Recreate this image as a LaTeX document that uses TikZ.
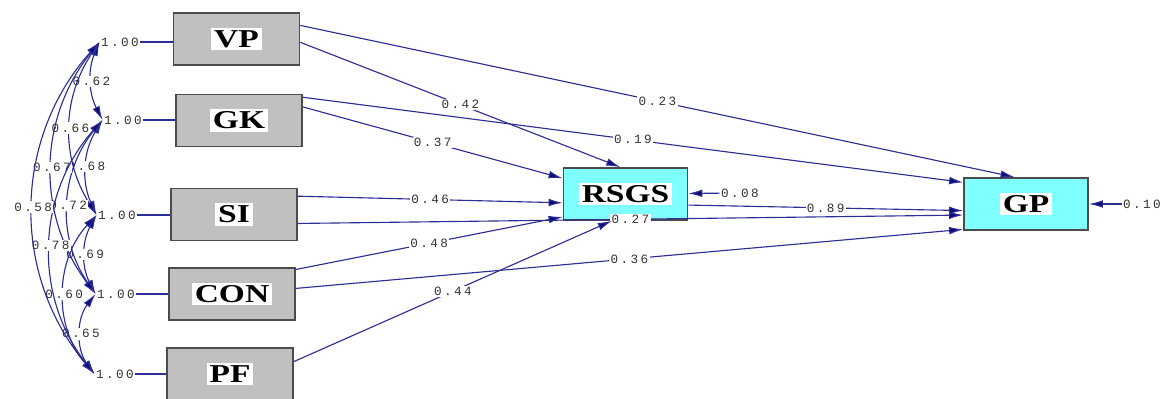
\documentclass[tikz,border=0pt]{standalone}
\usepackage{fontspec}
\usepackage{graphicx}
\setmainfont{Liberation Serif}
\newfontfamily\coeffont[LetterSpace=19]{Liberation Mono}
\usetikzlibrary{arrows,arrows.meta}
\definecolor{pathblue}{RGB}{45,45,150}
\definecolor{tipnavy}{RGB}{10,10,120}
\definecolor{boxgray}{RGB}{192,192,192}
\definecolor{boxcyan}{RGB}{128,255,255}
\setlength{\fboxsep}{2pt}
\newcommand{\varname}[1]{\colorbox{white}{\scalebox{1.3}[1]{\fontsize{18.3}{20}\selectfont\bfseries #1}}}

\begin{document}
\begin{tikzpicture}[x=0.025cm, y=0.025cm, >={Latex[length=10pt,width=5.5pt,fill=tipnavy]}]
		\useasboundingbox (0,0) rectangle (1168,399);
		\tikzstyle{every node} = [rectangle, draw=black!70, line width=1.2pt, minimum width=3.15cm, minimum height=1.3cm, inner sep=0pt]
		\tikzstyle{obs} = [fill=boxgray]
		\tikzstyle{endo} = [fill=boxcyan, minimum width=3.1cm]
		\node[obs] (vp) at (236.5, 360) {\varname{VP}};
		\node[obs] (gk) at (239, 278.5) {\varname{GK}};
		\node[obs] (si) at (234, 184.5) {\varname{SI}};
		\node[obs] (con) at (232, 105) {\varname{CON}};
		\node[obs] (pf) at (230, 25) {\varname{PF}};
		\node[endo] (rsgs) at (625.5, 205) {\varname{RSGS}};
		\node[endo] (gp) at (1026, 195) {\varname{GP}};

		\tikzstyle{every node} = [draw=none, fill=white, inner sep=1pt, text=black!80, font=\coeffont\fontsize{9}{10}\selectfont]
		\node (v1) at (120, 357) {1.00};
		\node (v2) at (123, 279) {1.00};
		\node (v3) at (117, 184) {1.00};
		\node (v4) at (116, 105) {1.00};
		\node (v5) at (115, 25) {1.00};
		\node (e1) at (740, 206) {0.08};
		\node (e2) at (1142, 195) {0.10};

		\tikzstyle{path} = [pathblue, line width=0.8pt]
		\draw [path] (v1.east) -- (v1.east -| vp.west);
		\draw [path] (v2.east) -- (v2.east -| gk.west);
		\draw [path] (v3.east) -- (v3.east -| si.west);
		\draw [path] (v4.east) -- (v4.east -| con.west);
		\draw [path] (v5.east) -- (v5.east -| pf.west);

		\draw [path, <->] (v1.west) to[bend right=25] node {0.62} (v2.west);
		\draw [path, <->] (v2.west) to[bend right=28] node {0.68} (v3.west);
		\draw [path, <->] (v3.west) to[bend right=28] node {0.69} (v4.west);
		\draw [path, <->] (v4.west) to[bend right=37] node {0.65} (v5.west);
		\draw [path, <->] (v1.west) to[bend right=33] node {0.66} (v3.west);
		\draw [path, <->] (v2.west) to[bend right=37] node {0.72} (v4.west);
		\draw [path, <->] (v3.west) to[bend right=42] node {0.60} (v5.west);
		\draw [path, <->] (v1.west) to[bend right=38] node {0.67} (v4.west);
		\draw [path, <->] (v2.west) to[bend right=40] node {0.78} (v5.west);
		\draw [path, <->] (v1.west) to[bend right=41] node {0.58} (v5.west);

		\draw [path, ->] (vp.12) -- node {0.23} (gp.113);
		\draw [path, ->] (vp.-3) -- node {0.42} (rsgs.101);
		\draw [path, ->] (gk.20) -- node {0.19} (gp.161);
		\draw [path, ->] (gk.12) -- node {0.37} (rsgs.166);
		\draw [path, ->] (si.16) -- node {0.46} (rsgs.188);
		\draw [path, ->] (si.-8) -- node {0.27} (gp.190);
		\draw [path, ->] (con.21) -- node {0.48} (rsgs.200);
		\draw [path, ->] (con.5) -- node {0.36} (gp.202);
		\draw [path, ->] (pf.11) -- node {0.44} (rsgs.243);
		\draw [path, ->] (rsgs.-10) -- node {0.89} (gp.186);
		\draw [path, ->] (e1) -- (rsgs);
		\draw [path, ->] (e2) -- (gp);
		\end{tikzpicture}
\end{document}
